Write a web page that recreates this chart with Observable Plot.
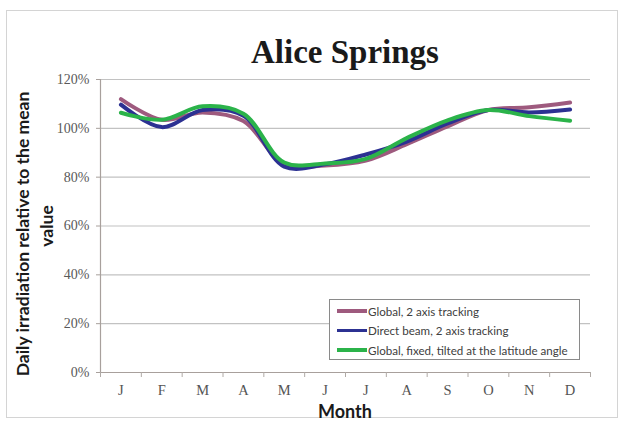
<!DOCTYPE html>
<html>
<head>
<meta charset="utf-8">
<script src="https://cdn.jsdelivr.net/npm/d3@7"></script>
<script src="https://cdn.jsdelivr.net/npm/@observablehq/plot@0.6"></script>
<style>
  html, body { margin: 0; padding: 0; background: #fff; }
  #wrap { position: relative; width: 624px; height: 423px; overflow: hidden; }
  #frame { position: absolute; left: 6px; top: 10px; width: 612px; height: 408px; border: 1px solid #d4d4d4; box-sizing: border-box; }
  #title { position: absolute; left: 0; width: 690px; top: 34px; text-align: center; font: bold 33px "Liberation Serif", serif; color: #1a1a1a; }
  .ytitle { position: absolute; font: bold 17.5px Lato, sans-serif; color: #1a1a1a; white-space: nowrap; transform: translate(-50%, -50%) rotate(-90deg); }
  #xtitle { position: absolute; left: 345px; top: 411px; transform: translate(-50%, -50%); font: bold 18px Lato, sans-serif; color: #1a1a1a; }
  #legend { position: absolute; left: 329px; top: 299px; width: 251px; height: 61px; border: 1px solid #8a8a8a; background: #fff; box-sizing: border-box; }
  .lrow { position: absolute; left: 7px; height: 14px; display: flex; align-items: center; font: 11.6px Lato, sans-serif; color: #404040; white-space: nowrap; }
  .lrow span.sw { display: inline-block; width: 30px; height: 3.5px; margin-right: 1px; }
  svg { position: absolute; left: 0; top: 0; }
</style>
</head>
<body>
<div id="wrap">
  <div id="frame"></div>
  <div id="chart"></div>
  <div id="title">Alice Springs</div>
  <div class="ytitle" style="left:22px; top:234px;">Daily irradiation relative to the mean</div>
  <div class="ytitle" style="left:46px; top:226px;">value</div>
  <div id="xtitle">Month</div>
  <div id="legend"></div>
</div>
<script>
const months = ["J","F","M","A","M","J","J","A","S","O","N","D"];
const seriesNames = ["Global, 2 axis tracking", "Direct beam, 2 axis tracking", "Global, fixed, tilted at the latitude angle"];
const seriesColors = ["#9e5a7e", "#2c3192", "#2bb34a"];
const global2axis = [112.0, 103.5, 106.5, 103.0, 85.3, 84.8, 86.8, 93.5, 100.8, 107.5, 108.6, 110.6];
const direct2axis = [109.7, 100.5, 107.5, 105.2, 84.3, 85.3, 89.3, 94.6, 102.0, 107.5, 106.5, 107.7];
const globalFixed = [106.4, 103.5, 109.0, 106.0, 86.0, 85.6, 87.5, 96.0, 103.3, 107.5, 105.0, 103.1];
const yTicks = [0, 20, 40, 60, 80, 100, 120];

const allSeries = [global2axis, direct2axis, globalFixed];
const data = allSeries.flatMap((vals, s) => vals.map((v, i) => ({i, v, s: seriesNames[s]})));
const idx = months.map((_, i) => i);
const bounds = [...idx.map(i => i - 0.5), months.length - 0.5];

const plot = Plot.plot({
  width: 624,
  height: 423,
  marginLeft: 100,
  marginRight: 34,
  marginTop: 79,
  marginBottom: 51,
  style: {background: "transparent"},
  x: {type: "linear", domain: [-0.5, months.length - 0.5], axis: null},
  y: {domain: [0, 120], axis: null},
  color: {domain: seriesNames, range: seriesColors},
  marks: [
    Plot.ruleY(yTicks.filter(d => d > 0), {stroke: "#c2c2c2", strokeWidth: 1.2}),
    Plot.ruleY([0], {stroke: "#a8a09c", strokeWidth: 1.2}),
    Plot.ruleX([-0.5], {stroke: "#a8a09c", strokeWidth: 1.2}),
    Plot.axisY({ticks: yTicks, tickSize: 4, tickPadding: 7, tickFormat: d => d + "%", stroke: "#a8a09c",
      fontFamily: "Liberation Serif, serif", fontSize: 14, fill: "#595959", label: null}),
    Plot.axisX({ticks: bounds, tickSize: 5, tickFormat: () => "", stroke: "#b0aaa6", label: null}),
    Plot.axisX({ticks: idx, tickSize: 0, tickPadding: 12, tickFormat: i => months[i],
      fontFamily: "Liberation Serif, serif", fontSize: 14.5, fill: "#555", label: null}),
    ...seriesNames.map(name => Plot.line(data.filter(d => d.s === name), {
      x: "i", y: "v", stroke: "s", curve: "catmull-rom", strokeWidth: 4, strokeLinecap: "round", strokeLinejoin: "round"
    }))
  ]
});
document.getElementById("chart").appendChild(plot);

const legend = document.getElementById("legend");
seriesNames.forEach((name, k) => {
  const row = document.createElement("div");
  row.className = "lrow";
  row.style.top = (4 + k * 19.5) + "px";
  const sw = document.createElement("span");
  sw.className = "sw";
  sw.style.background = seriesColors[k];
  row.appendChild(sw);
  row.appendChild(document.createTextNode(name));
  legend.appendChild(row);
});
</script>
</body>
</html>
